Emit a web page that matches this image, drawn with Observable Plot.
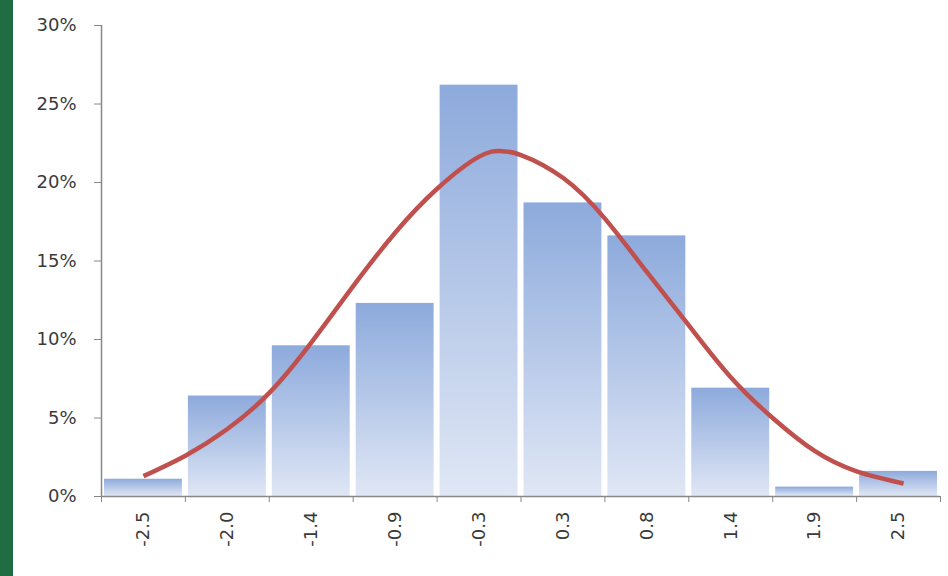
<!DOCTYPE html>
<html>
<head>
<meta charset="utf-8">
<script src="https://cdn.jsdelivr.net/npm/d3@7"></script>
<script src="https://cdn.jsdelivr.net/npm/@observablehq/plot@0.6"></script>
<style>
  html, body { margin: 0; padding: 0; background: #fff; }
  #wrap { position: relative; width: 948px; height: 576px; overflow: hidden; }
  #strip { position: absolute; left: 0; top: 0; width: 13px; height: 576px; background: #1f6e43; }
  #chart svg { display: block; }
</style>
</head>
<body>
<div id="wrap">
  <div id="chart"></div>
  <div id="strip"></div>
</div>
<script>
// Bin labels (category tick labels)
const binLabels = ["-2.5", "-2.0", "-1.4", "-0.9", "-0.3", "0.3", "0.8", "1.4", "1.9", "2.5"];
// Relative frequency per bin
const binShare = [0.011, 0.064, 0.096, 0.123, 0.262, 0.187, 0.166, 0.069, 0.006, 0.016];
// Fitted curve (x in bin units, y as share)
const curveX = [0.50, 1.00, 1.50, 2.00, 2.50, 3.00, 3.50, 4.00, 4.50, 4.76, 5.00, 5.50, 6.00, 6.50, 7.00, 7.50, 8.00, 8.50, 9.00, 9.56];
const curveY = [0.013, 0.026, 0.043, 0.066, 0.098, 0.134, 0.168, 0.196, 0.2165, 0.220, 0.2175, 0.203, 0.177, 0.143, 0.109, 0.076, 0.050, 0.029, 0.016, 0.0083];
// Y axis ticks
const yTicks = [0, 0.05, 0.10, 0.15, 0.20, 0.25, 0.30];

const bars = binLabels.map((label, i) => ({label, i, share: binShare[i]}));
const curve = curveX.map((x, j) => ({x, y: curveY[j]}));
const boundaries = d3.range(binLabels.length + 1);
const centers = binLabels.map((_, i) => i + 0.5);

const font = "'DejaVu Sans', sans-serif";

const defsMark = () => {
  const g = d3.create("svg:g");
  const grad = g.append("defs").append("linearGradient")
    .attr("id", "barGrad").attr("x1", 0).attr("y1", 0).attr("x2", 0).attr("y2", 1);
  grad.append("stop").attr("offset", "0%").attr("stop-color", "#8daadc");
  grad.append("stop").attr("offset", "100%").attr("stop-color", "#e0e7f5");
  return g.node();
};

const chart = Plot.plot({
  width: 948,
  height: 576,
  marginLeft: 101,
  marginRight: 8,
  marginTop: 25,
  marginBottom: 80,
  style: {fontFamily: font, fontSize: "18px", color: "#3a3a3a", background: "transparent"},
  x: {type: "linear", domain: [0, binLabels.length]},
  y: {domain: [0, 0.30]},
  marks: [
    defsMark,
    Plot.rect(bars, {x1: "i", x2: d => d.i + 1, y1: 0, y2: "share", fill: "url(#barGrad)", insetLeft: 3, insetRight: 3}),
    Plot.line(curve, {x: "x", y: "y", stroke: "#c0504d", strokeWidth: 4.5, curve: "natural", strokeLinecap: "butt"}),
    Plot.ruleY([0], {stroke: "#888", strokeWidth: 1.5}),
    Plot.ruleX([0], {stroke: "#888", strokeWidth: 1.5}),
    Plot.axisY({ticks: yTicks, tickFormat: d3.format(".0%"), tickSize: 7, tickPadding: 18, stroke: "#888", fontSize: 18, fill: "#3a3a3a", label: null}),
    Plot.axisX({ticks: boundaries, tickFormat: () => "", tickSize: 6, stroke: "#888", label: null}),
    Plot.axisX({ticks: centers, tickFormat: (d) => binLabels[Math.round(d - 0.5)], tickSize: 0, tickPadding: 15, tickRotate: -90, fontSize: 18, fill: "#3a3a3a", label: null})
  ]
});
document.getElementById("chart").appendChild(chart);
</script>
</body>
</html>
